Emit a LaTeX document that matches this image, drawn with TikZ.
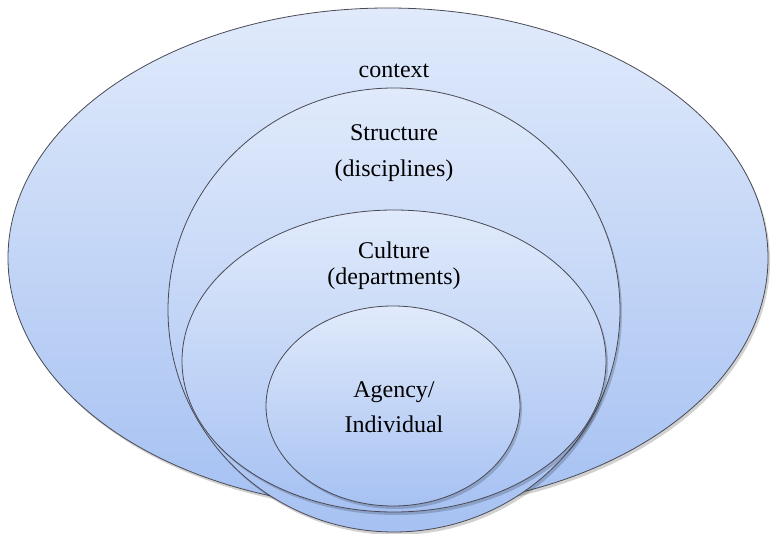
\documentclass[tikz,border=0pt]{standalone}
\usepackage{fontspec}
\setmainfont{Liberation Serif}
\definecolor{topc}{HTML}{E0EAFB}
\definecolor{botc}{HTML}{A6C1F2}
\definecolor{edgec}{HTML}{4A4A55}
\begin{document}
\begin{tikzpicture}[x=1pt,y=1pt,
  ring/.style={draw=edgec, line width=0.8pt, top color=topc, bottom color=botc},
  shadowring/.style={fill=black, opacity=0.18},
  lbl/.style={font=\fontsize{24}{26}\selectfont, text=black, inner sep=0pt}]
\useasboundingbox (0,0) rectangle (771,533);
% outer: context
\fill[shadowring] (390,272) ellipse (380 and 250);
\path[ring] (388,275) ellipse (380 and 250);
% structure
\fill[shadowring] (396,220) ellipse (226 and 222);
\path[ring] (394,223) ellipse (226 and 222);
% culture
\fill[shadowring] (396,169) ellipse (212 and 151);
\path[ring] (394,172) ellipse (212 and 151);
% agency
\fill[shadowring] (395,124) ellipse (127 and 100);
\path[ring] (393,127) ellipse (127 and 100);
\node[lbl] (context) at (394,462) {context};
\node[lbl] (structure) at (394,400) {Structure};
\node[lbl] (disciplines) at (394,362) {(disciplines)};
\node[lbl] (culture) at (394,283) {Culture};
\node[lbl] (departments) at (394,254) {(departments)};
\node[lbl] (agency) at (394,141) {Agency/};
\node[lbl] (individual) at (394,109) {Individual};
\end{tikzpicture}
\end{document}
